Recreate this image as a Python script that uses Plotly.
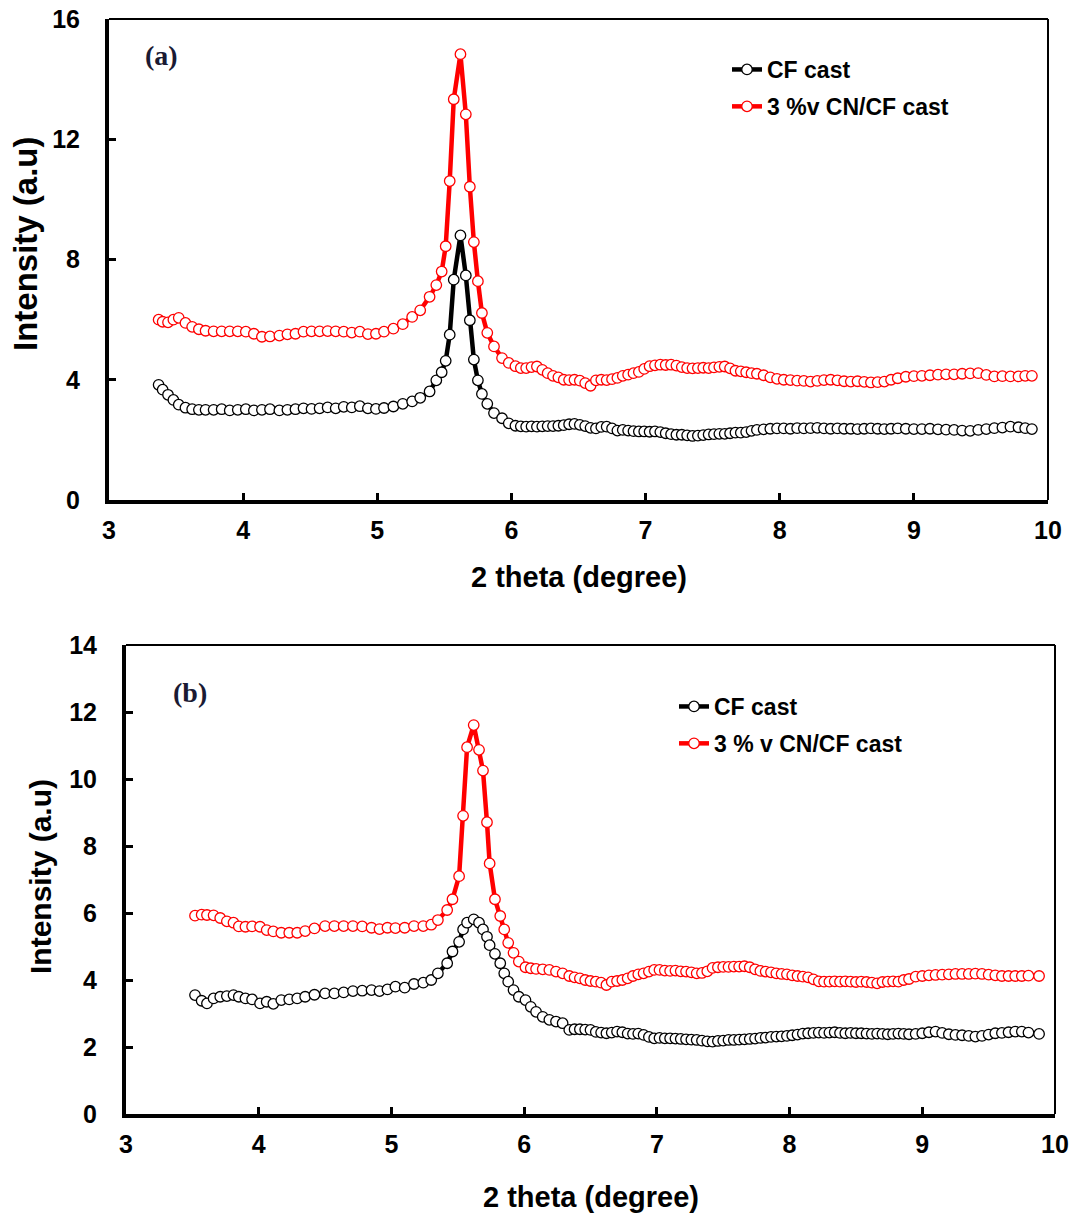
import plotly.graph_objects as go

# ---- Panel (a): 2-theta grid and intensities ----
two_theta_a = [
    3.37, 3.40, 3.44, 3.48, 3.52, 3.57, 3.62, 3.67, 3.72, 3.78,
    3.84, 3.90, 3.96, 4.02, 4.08, 4.14, 4.20, 4.27, 4.33, 4.39,
    4.45, 4.51, 4.57, 4.63, 4.69, 4.75, 4.81, 4.87, 4.93, 4.99,
    5.05, 5.12, 5.19, 5.26, 5.32, 5.39, 5.44, 5.48, 5.51, 5.54,
    5.57, 5.62, 5.66, 5.69, 5.72, 5.75, 5.78, 5.82, 5.87, 5.93,
    5.98, 6.03, 6.07, 6.11, 6.15, 6.19, 6.23, 6.27, 6.31, 6.35,
    6.39, 6.43, 6.47, 6.51, 6.55, 6.59, 6.63, 6.67, 6.71, 6.75,
    6.79, 6.83, 6.87, 6.91, 6.95, 6.99, 7.03, 7.07, 7.11, 7.15,
    7.19, 7.23, 7.27, 7.31, 7.35, 7.39, 7.43, 7.47, 7.51, 7.55,
    7.59, 7.63, 7.67, 7.71, 7.75, 7.79, 7.83, 7.88, 7.93, 7.98,
    8.03, 8.08, 8.13, 8.18, 8.23, 8.28, 8.33, 8.38, 8.43, 8.48,
    8.53, 8.58, 8.63, 8.68, 8.73, 8.78, 8.83, 8.88, 8.94, 9.00,
    9.06, 9.12, 9.18, 9.24, 9.30, 9.36, 9.42, 9.48, 9.54, 9.60,
    9.66, 9.72, 9.78, 9.83, 9.88,
]
cf_cast_a = [
    3.83, 3.67, 3.50, 3.33, 3.17, 3.07, 3.02, 3.00, 3.00, 3.00,
    3.02, 2.98, 3.00, 3.02, 2.98, 3.00, 3.02, 2.98, 3.00, 3.02,
    3.05, 3.03, 3.05, 3.08, 3.05, 3.10, 3.08, 3.12, 3.05, 3.03,
    3.06, 3.11, 3.20, 3.28, 3.40, 3.61, 3.98, 4.25, 4.63, 5.50,
    7.33, 8.80, 7.47, 5.98, 4.67, 3.98, 3.53, 3.20, 2.89, 2.72,
    2.55, 2.47, 2.45, 2.44, 2.45, 2.44, 2.45, 2.46, 2.46, 2.47,
    2.49, 2.52, 2.53, 2.50, 2.46, 2.40, 2.38, 2.43, 2.44, 2.38,
    2.31, 2.33, 2.31, 2.29, 2.28, 2.28, 2.27, 2.28, 2.26, 2.22,
    2.19, 2.17, 2.17, 2.15, 2.13, 2.14, 2.16, 2.18, 2.19, 2.20,
    2.20, 2.22, 2.24, 2.24, 2.26, 2.30, 2.33, 2.35, 2.37, 2.38,
    2.38, 2.37, 2.39, 2.38, 2.39, 2.40, 2.38, 2.37, 2.38, 2.37,
    2.37, 2.36, 2.37, 2.38, 2.37, 2.36, 2.37, 2.38, 2.37, 2.36,
    2.36, 2.37, 2.35, 2.34, 2.33, 2.31, 2.30, 2.33, 2.36, 2.39,
    2.41, 2.44, 2.42, 2.39, 2.36,
]
cn_cf_cast_a = [
    6.00, 5.93, 5.91, 6.00, 6.06, 5.89, 5.76, 5.68, 5.63, 5.61,
    5.61, 5.61, 5.61, 5.60, 5.53, 5.43, 5.44, 5.47, 5.51, 5.53,
    5.60, 5.61, 5.61, 5.62, 5.61, 5.60, 5.57, 5.60, 5.52, 5.53,
    5.60, 5.70, 5.85, 6.09, 6.31, 6.76, 7.15, 7.60, 8.44, 10.61,
    13.33, 14.83, 12.83, 10.42, 8.58, 7.28, 6.22, 5.56, 5.11, 4.72,
    4.56, 4.45, 4.39, 4.39, 4.42, 4.44, 4.33, 4.22, 4.13, 4.08,
    4.00, 3.99, 4.00, 3.97, 3.89, 3.80, 3.98, 4.00, 3.99, 4.02,
    4.06, 4.13, 4.17, 4.22, 4.26, 4.36, 4.45, 4.48, 4.50, 4.49,
    4.50, 4.47, 4.42, 4.39, 4.38, 4.39, 4.40, 4.39, 4.41, 4.43,
    4.44, 4.38, 4.30, 4.28, 4.25, 4.22, 4.20, 4.15, 4.08, 4.03,
    4.00, 3.99, 3.97, 3.96, 3.94, 3.96, 3.99, 4.00, 3.98, 3.95,
    3.94, 3.95, 3.93, 3.91, 3.92, 3.94, 4.00, 4.05, 4.10, 4.12,
    4.13, 4.15, 4.17, 4.18, 4.18, 4.20, 4.21, 4.22, 4.16, 4.11,
    4.12, 4.11, 4.11, 4.13, 4.13,
]

# ---- Panel (b): 2-theta grid and intensities ----
two_theta_b = [
    3.52, 3.57, 3.61, 3.66, 3.71, 3.76, 3.81, 3.85, 3.90, 3.95,
    4.01, 4.06, 4.11, 4.17, 4.23, 4.29, 4.35, 4.42, 4.50, 4.57,
    4.64, 4.71, 4.78, 4.85, 4.91, 4.97, 5.03, 5.10, 5.17, 5.24,
    5.30, 5.35, 5.42, 5.46, 5.51, 5.54, 5.57, 5.62, 5.66, 5.69,
    5.72, 5.74, 5.78, 5.82, 5.85, 5.88, 5.92, 5.96, 6.01, 6.05,
    6.09, 6.14, 6.19, 6.24, 6.29, 6.34, 6.38, 6.42, 6.46, 6.50,
    6.54, 6.58, 6.62, 6.66, 6.70, 6.74, 6.78, 6.82, 6.86, 6.90,
    6.94, 6.98, 7.02, 7.06, 7.10, 7.14, 7.18, 7.22, 7.26, 7.30,
    7.34, 7.38, 7.42, 7.46, 7.50, 7.54, 7.58, 7.62, 7.66, 7.70,
    7.74, 7.78, 7.82, 7.86, 7.90, 7.94, 7.98, 8.02, 8.06, 8.10,
    8.14, 8.18, 8.22, 8.26, 8.30, 8.34, 8.38, 8.42, 8.46, 8.50,
    8.54, 8.58, 8.62, 8.66, 8.70, 8.74, 8.78, 8.82, 8.86, 8.90,
    8.95, 9.00, 9.05, 9.10, 9.15, 9.20, 9.25, 9.30, 9.35, 9.40,
    9.45, 9.50, 9.55, 9.60, 9.65, 9.70, 9.75, 9.80, 9.88,
]
cf_cast_b = [
    3.55, 3.38, 3.30, 3.45, 3.50, 3.52, 3.55, 3.50, 3.45, 3.42,
    3.30, 3.35, 3.29, 3.40, 3.42, 3.45, 3.50, 3.56, 3.60, 3.60,
    3.63, 3.67, 3.68, 3.70, 3.67, 3.72, 3.80, 3.77, 3.88, 3.92,
    4.00, 4.20, 4.50, 4.85, 5.14, 5.51, 5.71, 5.81, 5.71, 5.51,
    5.29, 5.04, 4.78, 4.50, 4.20, 3.95, 3.70, 3.50, 3.40, 3.20,
    3.05, 2.90, 2.81, 2.76, 2.71, 2.51, 2.53, 2.53, 2.52, 2.51,
    2.45, 2.43, 2.41, 2.43, 2.46, 2.44, 2.40, 2.39, 2.40, 2.36,
    2.30, 2.26, 2.27, 2.26, 2.26, 2.25, 2.24, 2.23, 2.22, 2.21,
    2.19, 2.17, 2.16, 2.18, 2.19, 2.21, 2.21, 2.22, 2.23, 2.24,
    2.25, 2.27, 2.28, 2.30, 2.31, 2.32, 2.33, 2.35, 2.37, 2.40,
    2.41, 2.42, 2.43, 2.42, 2.43, 2.44, 2.42, 2.41, 2.42, 2.41,
    2.41, 2.40, 2.39, 2.40, 2.39, 2.38, 2.39, 2.40, 2.39, 2.38,
    2.39, 2.41, 2.44, 2.46, 2.42, 2.38, 2.36, 2.35, 2.33, 2.31,
    2.33, 2.37, 2.41, 2.42, 2.44, 2.46, 2.46, 2.43, 2.39,
]
cn_cf_cast_b = [
    5.92, 5.95, 5.94, 5.93, 5.85, 5.75, 5.71, 5.60, 5.59, 5.60,
    5.59, 5.49, 5.45, 5.41, 5.41, 5.41, 5.46, 5.54, 5.61, 5.61,
    5.61, 5.61, 5.60, 5.56, 5.52, 5.56, 5.55, 5.56, 5.61, 5.61,
    5.65, 5.79, 6.09, 6.41, 7.10, 8.90, 10.95, 11.61, 10.87, 10.25,
    8.71, 7.48, 6.41, 5.91, 5.51, 5.11, 4.81, 4.55, 4.38, 4.35,
    4.33, 4.32, 4.30, 4.25, 4.20, 4.12, 4.08, 4.05, 4.00, 3.97,
    3.95, 3.92, 3.85, 3.95, 3.97, 4.00, 4.05, 4.12, 4.17, 4.20,
    4.25, 4.30, 4.30, 4.28, 4.27, 4.28, 4.26, 4.25, 4.23, 4.20,
    4.21, 4.26, 4.36, 4.38, 4.39, 4.39, 4.40, 4.40, 4.41, 4.38,
    4.32, 4.27, 4.25, 4.23, 4.20, 4.18, 4.17, 4.14, 4.12, 4.10,
    4.08, 4.02, 3.96, 3.95, 3.95, 3.96, 3.95, 3.96, 3.95, 3.94,
    3.95, 3.94, 3.92, 3.90, 3.94, 3.95, 3.96, 3.95, 4.00, 4.03,
    4.10, 4.12, 4.14, 4.15, 4.16, 4.17, 4.18, 4.18, 4.18, 4.19,
    4.18, 4.16, 4.14, 4.12, 4.12, 4.12, 4.12, 4.13, 4.12,
]

x_ticks = [3, 4, 5, 6, 7, 8, 9, 10]
y_ticks_a = [0, 4, 8, 12, 16]
y_ticks_b = [0, 2, 4, 6, 8, 10, 12, 14]

W, H = 1070, 1215
SANS = "Liberation Sans, Arial, sans-serif"
SERIF = "Liberation Serif, Times New Roman, serif"


def px_x(v):
    return v / W


def px_y(v):
    return 1 - v / H


fig = go.Figure()


def add_series(x, y, color, name, xa, ya, legend, group):
    fig.add_trace(go.Scatter(
        x=x, y=y, mode="lines+markers", name=name,
        line=dict(color=color, width=4.5),
        marker=dict(symbol="circle", size=10.5, color="white",
                    line=dict(color=color, width=1.3)),
        xaxis=xa, yaxis=ya, legend=legend, legendgroup=group,
    ))


add_series(two_theta_a, cf_cast_a, "#000000", "CF cast", "x", "y", "legend", "a1")
add_series(two_theta_a, cn_cf_cast_a, "#ff0000", "3 %v CN/CF cast", "x", "y", "legend", "a2")
add_series(two_theta_b, cf_cast_b, "#000000", "CF cast", "x2", "y2", "legend2", "b1")
add_series(two_theta_b, cn_cf_cast_b, "#ff0000", "3 % v CN/CF cast", "x2", "y2", "legend2", "b2")

tick_font = dict(family=SANS, size=25, color="black", weight="bold")
common_x = dict(range=[3, 10], tickvals=x_ticks, ticks="inside", ticklen=7, tickwidth=3,
                tickcolor="black", showline=True, linewidth=4, linecolor="black",
                mirror=False, showgrid=False, zeroline=False, tickfont=tick_font,
                ticklabelstandoff=5, automargin=False)
common_y = dict(ticks="inside", ticklen=7, tickwidth=3, tickcolor="black",
                showline=True, linewidth=4, linecolor="black", mirror=False,
                showgrid=False, zeroline=False, tickfont=tick_font,
                ticklabelstandoff=20, automargin=False)

# plot boxes in pixels: (left, top, right, bottom)
box_a = (109, 19, 1048, 500)
box_b = (126, 645, 1055, 1114)

legend_font = dict(family=SANS, size=23, color="black", weight="bold")

fig.update_layout(
    width=W, height=H,
    margin=dict(l=0, r=0, t=0, b=0, autoexpand=False),
    paper_bgcolor="white", plot_bgcolor="white",
    xaxis=dict(domain=[px_x(box_a[0]), px_x(box_a[2])], anchor="y", **common_x),
    yaxis=dict(domain=[px_y(box_a[3]), px_y(box_a[1])], anchor="x",
               range=[0, 16], tickvals=y_ticks_a, **common_y),
    xaxis2=dict(domain=[px_x(box_b[0]), px_x(box_b[2])], anchor="y2", **common_x),
    yaxis2=dict(domain=[px_y(box_b[3]), px_y(box_b[1])], anchor="x2",
                range=[0, 14], tickvals=y_ticks_b, **common_y),
    legend=dict(x=px_x(727), y=px_y(48), xanchor="left", yanchor="top",
                bgcolor="rgba(0,0,0,0)", borderwidth=0, tracegroupgap=4,
                font=legend_font),
    legend2=dict(x=px_x(674), y=px_y(685), xanchor="left", yanchor="top",
                 bgcolor="rgba(0,0,0,0)", borderwidth=0, tracegroupgap=4,
                 font=legend_font),
    showlegend=True,
)

# thin top and right frame lines
for xr, yr in (("x domain", "y domain"), ("x2 domain", "y2 domain")):
    fig.add_shape(type="line", xref=xr, yref=yr, x0=0, x1=1, y0=1, y1=1,
                  line=dict(color="black", width=2))
    fig.add_shape(type="line", xref=xr, yref=yr, x0=1, x1=1, y0=0, y1=1,
                  line=dict(color="black", width=2))

title_font = dict(family=SANS, size=29, color="black", weight="bold")
ytitle_a_font = dict(family=SANS, size=33, color="black", weight="bold")
ytitle_b_font = dict(family=SANS, size=30, color="black", weight="bold")
panel_font = dict(family=SERIF, size=28, color="#1a1a33", weight="bold")


def label(text, x, y, font, angle=0):
    fig.add_annotation(text=text, x=px_x(x), y=px_y(y), xref="paper", yref="paper",
                       showarrow=False, font=font, textangle=angle,
                       xanchor="center", yanchor="middle")


label("2 theta (degree)", 579, 577, title_font)
label("2 theta (degree)", 591, 1197, title_font)
label("Intensity (a.u)", 25, 244, ytitle_a_font, -90)
label("Intensity (a.u)", 40, 877, ytitle_b_font, -90)
label("(a)", 161, 56, panel_font)
label("(b)", 190, 692, panel_font)

fig.write_html("out.html")
